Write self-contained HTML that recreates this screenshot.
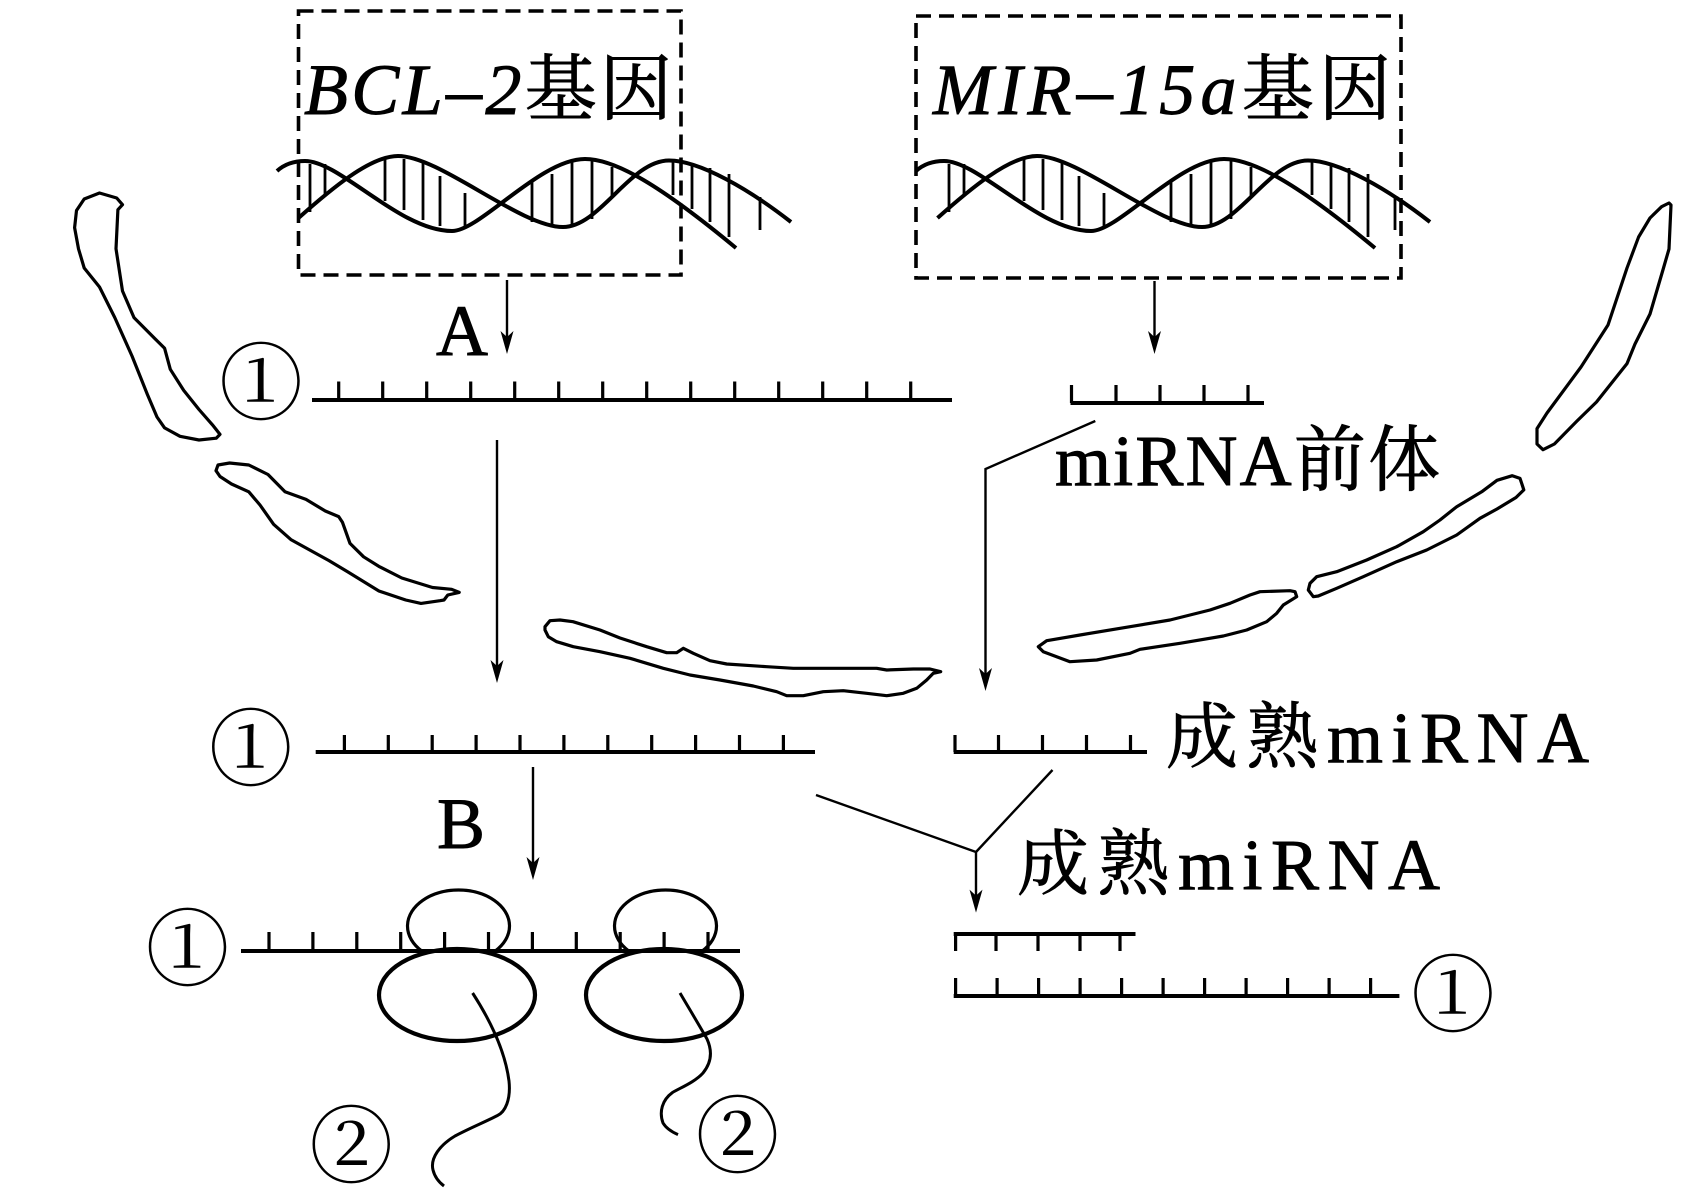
<!DOCTYPE html>
<html><head><meta charset="utf-8"><style>
html,body{margin:0;padding:0;background:#fff;}
svg{display:block;}
text{font-family:"Liberation Serif","Times New Roman",Times,"Noto Serif CJK SC",serif;fill:#000;}
.lbl{stroke:#000;stroke-width:0.9;}
</style></head><body>
<svg width="1699" height="1195" viewBox="0 0 1699 1195" xmlns="http://www.w3.org/2000/svg" font-family="'Liberation Serif','Times New Roman',Times,'Noto Serif CJK SC',serif">
<rect width="1699" height="1195" fill="#fff"/>

<!-- dashed boxes -->
<rect x="298.5" y="11" width="382.5" height="264" fill="none" stroke="#000" stroke-width="3.6" stroke-dasharray="15 8"/>
<rect x="916" y="16" width="485" height="262" fill="none" stroke="#000" stroke-width="3.6" stroke-dasharray="15 8"/>

<!-- gene labels -->
<text class="lbl" x="304" y="114" font-size="72" textLength="368" lengthAdjust="spacing"><tspan font-style="italic">BCL–2</tspan>基因</text>
<text class="lbl" x="933" y="114" font-size="72" textLength="458" lengthAdjust="spacing"><tspan font-style="italic">MIR–15a</tspan>基因</text>

<!-- helix -->
<g fill="none" stroke="#000">
  <path stroke-width="4" d="M277,171 Q288,161 305,161 C340,161 400,231 452,231 C480,231 540,159 585,159 C615,159 660,185 736,248"/>
  <path stroke-width="4" d="M298.5,218 C330,190 370,156 398,156 C440,156 520,227 563,227 C600,227 630,160.5 669,160.5 C700,160.5 750,190 791,222"/>
  <g stroke-width="2.8">
    <line x1="310" y1="164" x2="310" y2="212"/>
    <line x1="325" y1="164" x2="325" y2="195"/>
    <line x1="385" y1="159" x2="385" y2="201"/>
    <line x1="404" y1="159" x2="404" y2="210"/>
    <line x1="423" y1="162" x2="423" y2="220"/>
    <line x1="440" y1="176" x2="440" y2="226"/>
    <line x1="465" y1="193" x2="465" y2="229"/>
    <line x1="532" y1="182" x2="532" y2="222"/>
    <line x1="552" y1="174" x2="552" y2="226"/>
    <line x1="572" y1="162" x2="572" y2="226"/>
    <line x1="592" y1="159" x2="592" y2="219"/>
    <line x1="612" y1="167" x2="612" y2="198"/>
    <line x1="673" y1="161" x2="673" y2="195"/>
    <line x1="692" y1="163" x2="692" y2="209"/>
    <line x1="710" y1="168" x2="710" y2="222"/>
    <line x1="729" y1="174" x2="729" y2="237"/>
    <line x1="760" y1="197" x2="760" y2="230"/>
  </g>
</g>
<g transform="translate(639,0)" fill="none" stroke="#000">
  <path stroke-width="4" d="M277,171 Q288,161 305,161 C340,161 400,231 452,231 C480,231 540,159 585,159 C615,159 660,185 736,248"/>
  <path stroke-width="4" d="M298.5,218 C330,190 370,156 398,156 C440,156 520,227 563,227 C600,227 630,160.5 669,160.5 C700,160.5 750,190 791,222"/>
  <g stroke-width="2.8">
    <line x1="310" y1="164" x2="310" y2="212"/>
    <line x1="325" y1="164" x2="325" y2="195"/>
    <line x1="385" y1="159" x2="385" y2="201"/>
    <line x1="404" y1="159" x2="404" y2="210"/>
    <line x1="423" y1="162" x2="423" y2="220"/>
    <line x1="440" y1="176" x2="440" y2="226"/>
    <line x1="465" y1="193" x2="465" y2="229"/>
    <line x1="532" y1="182" x2="532" y2="222"/>
    <line x1="552" y1="174" x2="552" y2="226"/>
    <line x1="572" y1="162" x2="572" y2="226"/>
    <line x1="592" y1="159" x2="592" y2="219"/>
    <line x1="612" y1="167" x2="612" y2="198"/>
    <line x1="673" y1="161" x2="673" y2="195"/>
    <line x1="692" y1="163" x2="692" y2="209"/>
    <line x1="710" y1="168" x2="710" y2="222"/>
    <line x1="729" y1="174" x2="729" y2="237"/>
    <line x1="756" y1="197" x2="756" y2="230"/>
  </g>
</g>

<!-- arrows -->
<g stroke="#000" stroke-width="2.4" fill="none">
  <line x1="507" y1="280" x2="507" y2="342"/>
  <line x1="1154.5" y1="281" x2="1154.5" y2="342"/>
  <line x1="497" y1="440" x2="497" y2="671"/>
  <polyline points="1095.3,421 985.5,469 985.5,679"/>
  <line x1="533" y1="767" x2="533" y2="868"/>
  <line x1="816" y1="795" x2="976" y2="852"/>
  <line x1="1052.5" y1="770" x2="976" y2="852"/>
  <line x1="976" y1="852" x2="976" y2="900"/>
</g>
<g fill="#000">
  <path d="M507,354 L500.5,331 L507,337 L513.5,331 Z"/>
  <path d="M1154.5,354 L1148,331 L1154.5,337 L1161,331 Z"/>
  <path d="M497,683 L490.5,660 L497,666 L503.5,660 Z"/>
  <path d="M985.5,691 L979,668 L985.5,674 L992,668 Z"/>
  <path d="M533,880 L526.5,857 L533,863 L539.5,857 Z"/>
  <path d="M976,912.6 L969.5,889.6 L976,895.6 L982.5,889.6 Z"/>
</g>

<!-- labels A, B -->
<text class="lbl" x="436" y="355" font-size="72">A</text>
<text class="lbl" x="437" y="848" font-size="72">B</text>

<!-- strands with ticks -->
<g stroke="#000" fill="none">
  <line x1="312" y1="400" x2="952" y2="400" stroke-width="4"/>
  <path stroke-width="3.2" d="M338.7,381.5V400M382.7,381.5V400M426.7,381.5V400M470.7,381.5V400M514.7,381.5V400M558.7,381.5V400M602.7,381.5V400M646.7,381.5V400M690.7,381.5V400M734.7,381.5V400M778.7,381.5V400M822.7,381.5V400M866.7,381.5V400M910.7,381.5V400"/>
  <line x1="1070.5" y1="403" x2="1264" y2="403" stroke-width="4"/>
  <path stroke-width="3.2" d="M1071.5,385V403M1116,385V403M1160,385V403M1204,385V403M1248,385V403"/>
  <line x1="315.7" y1="752" x2="815" y2="752" stroke-width="4"/>
  <path stroke-width="3.2" d="M344.4,735V752M388.3,735V752M432.2,735V752M476.1,735V752M520,735V752M563.9,735V752M607.8,735V752M651.7,735V752M695.6,735V752M739.5,735V752M783.4,735V752"/>
  <line x1="953.7" y1="752" x2="1147" y2="752" stroke-width="4"/>
  <path stroke-width="3.2" d="M955,735V752M998.5,735V752M1042.5,735V752M1086.5,735V752M1130.5,735V752"/>
  <line x1="241" y1="951" x2="740" y2="951" stroke-width="4"/>
  <path stroke-width="3.2" d="M269,932V951M312.9,932V951M356.8,932V951M400.7,932V951M444.6,932V951M488.5,932V951M532.4,932V951M576.3,932V951M620.2,932V951M664.1,932V951M708,932V951"/>
  <line x1="953.7" y1="934" x2="1135.5" y2="934" stroke-width="4"/>
  <path stroke-width="3.2" d="M955.6,934V951M996,934V951M1038,934V951M1080,934V951M1120,934V951"/>
  <line x1="953.7" y1="996" x2="1399.4" y2="996" stroke-width="4"/>
  <path stroke-width="3.2" d="M955.6,978V996M997.1,978V996M1038.6,978V996M1080.1,978V996M1121.6,978V996M1163.1,978V996M1204.6,978V996M1246.1,978V996M1287.6,978V996M1329.1,978V996M1370.6,978V996"/>
</g>

<!-- ribosomes -->
<g fill="none" stroke="#000">
  <path stroke-width="3.2" d="M421.8,951 A51,36 0 1,1 495.2,951"/>
  <ellipse cx="457" cy="995" rx="78" ry="46" stroke-width="4.2"/>
  <path stroke-width="3.2" d="M628.8,951 A51,36 0 1,1 702.2,951"/>
  <ellipse cx="664" cy="995" rx="78" ry="46" stroke-width="4.2"/>
  <path stroke-width="3" d="M472.6,993 C490,1020 505,1050 509,1081 C511,1100 505,1112 497.5,1115.5 C485,1122 470,1128 455,1136 C440,1145 430,1158 433,1170 C435,1178 440,1183 444,1186"/>
  <path stroke-width="3" d="M680,993 C690,1010 702,1030 707,1039 C712,1050 712,1062 703,1073 C695,1082 680,1088 672.5,1092.5 C662,1100 659,1112 663,1123 C666,1128 672,1132 678,1134.6"/>
</g>

<!-- cells -->
<g fill="none" stroke="#000" stroke-width="3.2" stroke-linejoin="round">
  <path d="M99.5,193 L116.7,198 L122.5,204.7 L117.9,209.7 L116,248.8 L122.5,291 L134,317.6 L155,338.7 L164.6,348.3 L170.3,369.3 L183.7,390.4 L199,409.5 L212.4,424.8 L220,434.4 L216.2,438.2 L199,440 L180,436.3 L164.6,427.9 L157,417 L147.3,394.2 L132,356 L114.8,317.6 L99.5,287 L84.2,268 L78.5,248.8 L74.6,227.7 L76.5,210.5 L84.2,199 Z"/>
  <path d="M218,465 L229.6,463 L248.8,465 L268,474.5 L285,491.8 L306,499.4 L325.3,511 L338.7,516.6 L342.5,522.4 L350,543.4 L363.6,556.8 L378.9,566.4 L401.8,578 L432.5,587.5 L451.6,589.3 L459.2,592.4 L447.8,595 L444,600 L440,600.7 L421,603.4 L405.7,600 L378.9,591 L348,572 L329,560.6 L290.9,539.6 L273.6,524.3 L260,505 L248.8,491.8 L231.5,484 L220,476.5 L216,470.7 Z"/>
  <path d="M545,626.7 L550,620.7 L560,620 L573,621.7 L600,630 L620,638 L646.7,646.7 L666.7,652.7 L676.7,652.7 L683.3,648.3 L693.3,653.3 L710,660.7 L726.7,664 L766.7,666.7 L793.3,668.3 L876.7,668.3 L886.7,670 L913.3,669 L930,669 L940.7,671.7 L933.3,673.3 L926.7,680 L916.7,688.3 L903.3,693.3 L886.7,695.7 L866.7,693.3 L843.3,690.7 L823.3,691.7 L803.3,695.7 L786.7,695.7 L776.7,691.7 L753.3,686 L720,680 L690,675 L663.3,668.3 L630,658.3 L600,651.7 L573.3,646.7 L556.7,641.7 L548.3,636.7 L545,630 Z"/>
  <path d="M1671,205 L1669,249 L1663.5,268 L1650,314 L1635,344 L1627,363.6 L1596.5,402 L1577,421 L1554.4,444 L1543,449.7 L1537,444 L1537,428.6 L1547,413 L1581,367 L1608,325 L1627,268 L1638.6,237 L1650,218 L1661.6,206.7 L1669,203 Z"/>
  <path d="M1521.9,484 L1520,478.4 L1512.3,475.7 L1497,480.3 L1481.7,491.8 L1456.7,506.7 L1440,520 L1423.3,531.7 L1396.7,546.7 L1366.7,560 L1336.7,571.7 L1316.7,576.7 L1310,583.3 L1308.3,590 L1313.3,596.7 L1318.3,596 L1336.7,588.3 L1363.3,576.7 L1396.7,561.7 L1426.7,550 L1456.7,535 L1480,518.3 L1497,509 L1516,497.5 L1523.8,489.9 Z"/>
  <path d="M1295,591.7 L1290,590.7 L1260,591.7 L1250,595 L1230,603.3 L1210,610 L1170,620 L1130,626.7 L1080,635 L1046.7,640.7 L1038.3,646.7 L1043.3,651.7 L1070,661.7 L1096.7,660 L1130,653.3 L1140,649.3 L1180,643.3 L1223.3,636 L1246.7,630 L1266.7,621.7 L1276.7,613.3 L1283.3,605 L1296.7,596.7 Z"/>
</g>

<!-- text labels -->
<text class="lbl" x="1055" y="485" font-size="72" textLength="385" lengthAdjust="spacing">miRNA前体</text>
<text class="lbl" x="1166" y="762" font-size="72" textLength="423" lengthAdjust="spacing">成熟miRNA</text>
<text class="lbl" x="1017" y="889" font-size="72" textLength="423" lengthAdjust="spacing">成熟miRNA</text>

<!-- circled numbers -->
<g font-size="84" text-anchor="middle">
  <text x="261" y="413" style="font-family:'Noto Serif CJK SC','Noto Sans CJK SC',serif">①</text>
  <text x="250.7" y="779" style="font-family:'Noto Serif CJK SC','Noto Sans CJK SC',serif">①</text>
  <text x="187.5" y="979" style="font-family:'Noto Serif CJK SC','Noto Sans CJK SC',serif">①</text>
  <text x="1453" y="1025" style="font-family:'Noto Serif CJK SC','Noto Sans CJK SC',serif">①</text>
  <text x="351.3" y="1176" style="font-family:'Noto Serif CJK SC','Noto Sans CJK SC',serif">②</text>
  <text x="737.5" y="1166" style="font-family:'Noto Serif CJK SC','Noto Sans CJK SC',serif">②</text>
</g>
</svg>
</body></html>
